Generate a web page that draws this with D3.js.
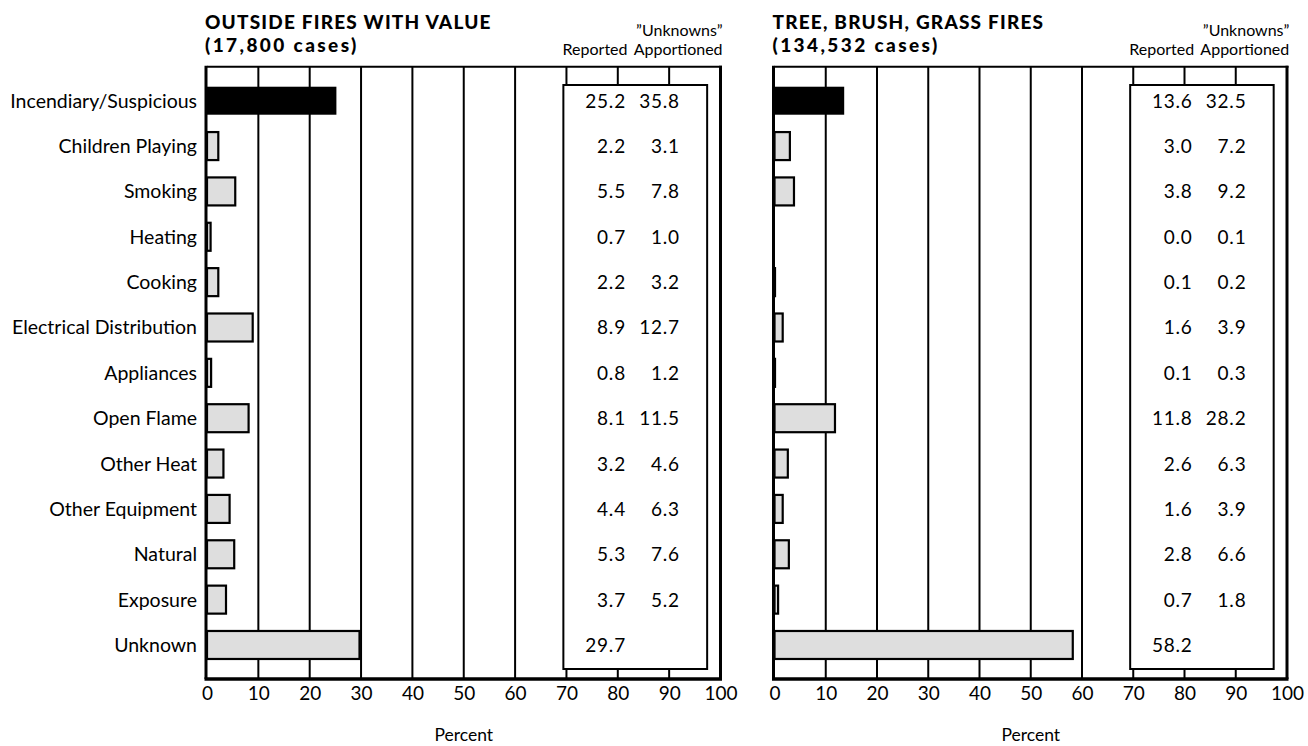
<!DOCTYPE html>
<html><head><meta charset="utf-8">
<script src="https://cdn.jsdelivr.net/npm/d3@7"></script>
<style>
html,body{margin:0;padding:0;background:#fff;}
svg{display:block;}
</style></head>
<body>
<svg id="chart" width="1308" height="746"></svg>
<script>
const categories = ["Incendiary/Suspicious","Children Playing","Smoking","Heating","Cooking","Electrical Distribution","Appliances","Open Flame","Other Heat","Other Equipment","Natural","Exposure","Unknown"];
const outsideReported = [25.2,2.2,5.5,0.7,2.2,8.9,0.8,8.1,3.2,4.4,5.3,3.7,29.7];
const outsideApportioned = [35.8,3.1,7.8,1.0,3.2,12.7,1.2,11.5,4.6,6.3,7.6,5.2,null];
const treeReported = [13.6,3.0,3.8,0.0,0.1,1.6,0.1,11.8,2.6,1.6,2.8,0.7,58.2];
const treeApportioned = [32.5,7.2,9.2,0.1,0.2,3.9,0.3,28.2,6.3,3.9,6.6,1.8,null];
const tickValues = [0,10,20,30,40,50,60,70,80,90,100];
const titles1 = ["OUTSIDE FIRES WITH VALUE","TREE, BRUSH, GRASS FIRES"];
const titles2 = ["(17,800 cases)","(134,532 cases)"];
const axisTitle = "Percent";
const colHeads = ["Reported","Apportioned","\u201DUnknowns\u201D"];

const FONT = "Lato, 'Open Sans', sans-serif";
const svg = d3.select("#chart");

const layouts = [
  {x0:207, x1:720.5, rep:outsideReported, app:outsideApportioned, t1:titles1[0], t2:titles2[0], labels:true},
  {x0:774.5, x1:1287, rep:treeReported, app:treeApportioned, t1:titles1[1], t2:titles2[1], labels:false}
];
const yTop = 66.7, yBot = 679;
const y = d3.scaleBand().domain(categories).range([yTop, yBot]).paddingInner(0).paddingOuter(0.25);
const barH = 28;

layouts.forEach(L => {
  const x = d3.scaleLinear().domain([0,100]).range([L.x0, L.x1]);
  const g = svg.append("g");

  // gridlines
  g.selectAll("line.grid").data(tickValues.filter(t => t>0 && t<100)).join("line")
    .attr("x1", d=>x(d)).attr("x2", d=>x(d)).attr("y1", yTop).attr("y2", yBot)
    .attr("stroke","#000").attr("stroke-width",2);

  // frame top and right
  g.append("line").attr("x1", x(0)).attr("x2", x(100)+1.5).attr("y1", yTop).attr("y2", yTop)
    .attr("stroke","#000").attr("stroke-width",2);
  g.append("line").attr("x1", x(100)).attr("x2", x(100)).attr("y1", yTop-1).attr("y2", yBot)
    .attr("stroke","#000").attr("stroke-width",3);

  // bars
  const rows = categories.map((c,i)=>({c, v:L.rep[i], a:L.app[i], i}));
  g.selectAll("rect.bar").data(rows.filter(d=>d.v>0)).join("rect")
    .attr("x", x(0)).attr("y", d=>y(d.c)+y.bandwidth()/2-barH/2)
    .attr("width", d=>x(d.v)-x(0)).attr("height", barH)
    .attr("fill", d=>d.i===0 ? "#000" : "#dedede")
    .attr("stroke","#000").attr("stroke-width", d=>d.i===0?0:2.2);

  // value box
  const bx0 = x(69.4), bx1 = x(97.4);
  g.append("rect").attr("x", bx0).attr("y", 85).attr("width", bx1-bx0).attr("height", 669-85)
    .attr("fill","#fff").attr("stroke","#000").attr("stroke-width",2);

  g.selectAll("text.rep").data(rows).join("text")
    .attr("x", x(81.4)+1).attr("y", d=>y(d.c)+y.bandwidth()/2+7)
    .attr("text-anchor","end").attr("font-family",FONT).attr("font-size",19).attr("letter-spacing","0.8px")
    .text(d=>d.v.toFixed(1));
  g.selectAll("text.app").data(rows.filter(d=>d.a!==null)).join("text")
    .attr("x", x(91.9)+1).attr("y", d=>y(d.c)+y.bandwidth()/2+7)
    .attr("text-anchor","end").attr("font-family",FONT).attr("font-size",19).attr("letter-spacing","0.8px")
    .text(d=>d.a.toFixed(1));

  // axis
  const ax = g.append("g").attr("transform",`translate(0,${yBot})`)
    .call(d3.axisBottom(x).tickValues(tickValues).tickSize(0).tickPadding(8).tickFormat(d3.format("d")));
  ax.select(".domain").remove();
  ax.selectAll("text").attr("font-family",FONT).attr("font-size",19).attr("fill","#000");

  // left axis line and bottom axis line
  g.append("line").attr("x1", x(0)-1).attr("x2", x(0)-1).attr("y1", yTop-1).attr("y2", yBot)
    .attr("stroke","#000").attr("stroke-width",3);
  g.append("line").attr("x1", x(0)-2.5).attr("x2", x(100)+1.5).attr("y1", yBot).attr("y2", yBot)
    .attr("stroke","#000").attr("stroke-width",3.5);

  // axis title
  g.append("text").attr("x", x(50)).attr("y", 741).attr("text-anchor","middle")
    .attr("font-family",FONT).attr("font-size",17.5).text(axisTitle);

  // titles
  g.append("text").attr("x", x(0)-2).attr("y", 28.5).attr("font-family",FONT).attr("font-weight","900")
    .attr("font-size",19).attr("letter-spacing","1.2px").text(L.t1);
  g.append("text").attr("x", x(0)-2).attr("y", 51.5).attr("font-family",FONT).attr("font-weight","900")
    .attr("font-size",19).attr("letter-spacing","2.4px").text(L.t2);

  // column headers
  g.append("text").attr("x", x(81.7)+1).attr("y", 55).attr("text-anchor","end")
    .attr("font-family",FONT).attr("font-size",16).text(colHeads[0]);
  const ap = g.append("text").attr("x", x(82.9)+1).attr("y", 55).attr("text-anchor","start")
    .attr("font-family",FONT).attr("font-size",16).text(colHeads[1]);
  const apEnd = x(82.9) + 1 + ap.node().getComputedTextLength();
  g.append("text").attr("x", apEnd).attr("y", 36).attr("text-anchor","end")
    .attr("font-family",FONT).attr("font-size",16).text(colHeads[2]);

  // category labels
  if (L.labels) {
    g.selectAll("text.cat").data(categories).join("text")
      .attr("x", x(0)-10).attr("y", d=>y(d)+y.bandwidth()/2+7)
      .attr("text-anchor","end").attr("font-family",FONT).attr("font-size",19.5)
      .text(d=>d);
  }
});
</script>
</body></html>
